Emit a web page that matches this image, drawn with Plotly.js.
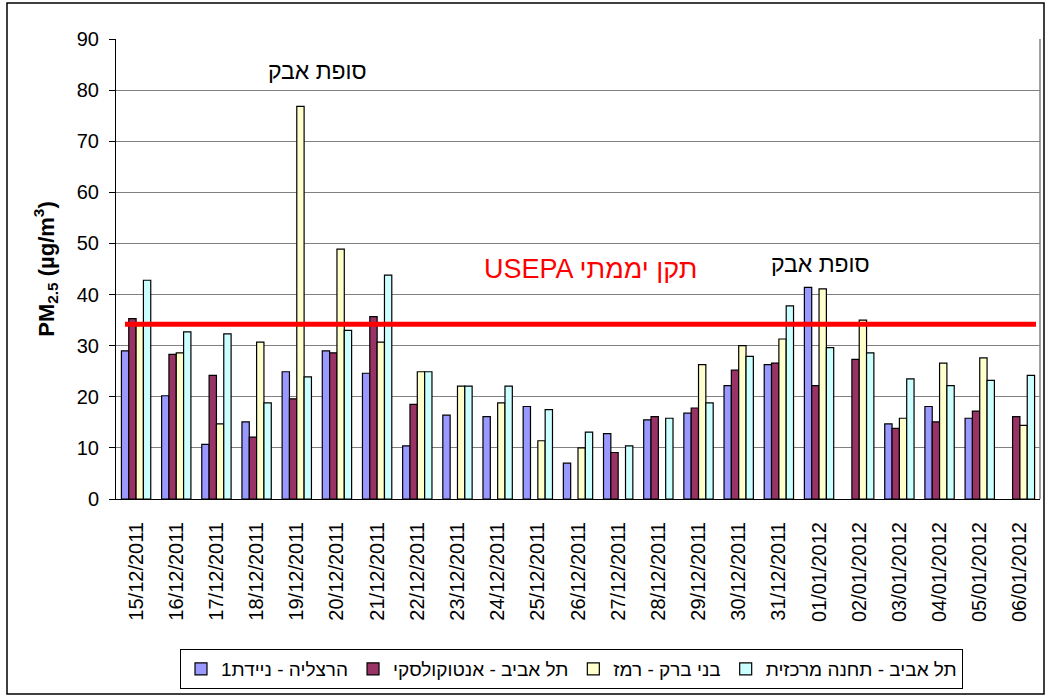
<!DOCTYPE html>
<html>
<head>
<meta charset="utf-8">
<script src="https://cdn.plot.ly/plotly-3.0.1.min.js"></script>
<style>
html,body{margin:0;padding:0;background:#fff;}
#chart{width:1045px;height:696px;}
</style>
</head>
<body>
<div id="chart"></div>
<script>
const dates = ['15/12/2011','16/12/2011','17/12/2011','18/12/2011','19/12/2011','20/12/2011','21/12/2011','22/12/2011','23/12/2011','24/12/2011','25/12/2011','26/12/2011','27/12/2011','28/12/2011','29/12/2011','30/12/2011','31/12/2011','01/01/2012','02/01/2012','03/01/2012','04/01/2012','05/01/2012','06/01/2012'];

const seriesNames = ['הרצליה - ניידת1','תל אביב - אנטוקולסקי','בני ברק - רמז','תל אביב - תחנה מרכזית'];

const herzliya = [29.0, 20.2, 10.7, 15.1, 24.9, 29.0, 24.6, 10.4, 16.4, 16.1, 18.1, 7.0, 12.8, 15.5, 16.8, 22.2, 26.3, 41.4, null, 14.7, 18.1, 15.8, null];
const antokolsky = [35.3, 28.3, 24.2, 12.1, 19.6, 28.6, 35.7, 18.5, null, null, null, null, 9.1, 16.1, 17.8, 25.2, 26.6, 22.2, 27.3, 13.8, 15.1, 17.2, 16.1];
const bneiBrak = [34.3, 28.6, 14.7, 30.7, 76.8, 48.9, 30.7, 24.9, 22.1, 18.8, 11.4, 10.0, null, null, 26.3, 30.0, 31.3, 41.1, 35.0, 15.8, 26.6, 27.6, 14.4];
const centralStation = [42.8, 32.7, 32.3, 18.8, 23.9, 33.0, 43.8, 24.9, 22.1, 22.1, 17.5, 13.1, 10.4, 15.8, 18.8, 27.9, 37.8, 29.6, 28.6, 23.5, 22.2, 23.2, 24.2];

const usepaStandard = 34.2;
const yTicks = [0,10,20,30,40,50,60,70,80,90];

const colors = ['#9999FF','#993366','#FFFFCC','#CCFFFF'];
const allSeries = [herzliya, antokolsky, bneiBrak, centralStation];

const FONT = 'Liberation Sans, Arial, sans-serif';

const traces = allSeries.map((vals, i) => ({
  type: 'bar',
  name: seriesNames[i],
  x: dates,
  y: vals,
  marker: {color: colors[i], line: {color: '#000000', width: 1.2}},
  hoverinfo: 'x+y+name'
}));

// plot area pixel geometry
const L = 116, R = 5, T = 39, B = 197;
const W = 1045 - L - R, H = 696 - T - B;
const px = x => (x - L) / W;
const py = y => (696 - B - y) / H;

const layout = {
  width: 1045, height: 696,
  margin: {l: L, r: R, t: T, b: B},
  paper_bgcolor: '#ffffff',
  plot_bgcolor: '#ffffff',
  font: {family: FONT, color: '#000000', size: 20},
  barmode: 'group',
  bargap: 0.27,
  bargroupgap: 0,
  showlegend: true,
  legend: {
    orientation: 'h',
    x: px(180), y: py(649),
    xanchor: 'left', yanchor: 'top',
    bordercolor: '#000000', borderwidth: 1,
    font: {family: FONT, size: 19, color: '#000000'},
    itemwidth: 30,
    tracegroupgap: 0,
    traceorder: 'normal'
  },
  xaxis: {
    type: 'category',
    tickangle: -90,
    ticks: '',
    showline: true, linecolor: '#000000', linewidth: 1,
    showgrid: false,
    tickfont: {family: FONT, size: 20, color: '#000000'},
    ticklabelstandoff: 14,
    automargin: false,
    fixedrange: true
  },
  xaxis2: {
    overlaying: 'x', anchor: 'y',
    range: [-0.5, dates.length - 0.5],
    tick0: -0.5, dtick: 2,
    ticks: 'outside', ticklen: 6, tickcolor: '#000000', tickwidth: 1,
    showticklabels: false, showgrid: false, showline: false, zeroline: false,
    automargin: false,
    fixedrange: true
  },
  yaxis: {
    range: [0, 90],
    tickvals: yTicks,
    ticks: 'outside', ticklen: 6, tickcolor: '#000000',
    showline: true, linecolor: '#000000', linewidth: 1,
    showgrid: true, gridcolor: '#808080', gridwidth: 1,
    zeroline: false,
    tickfont: {family: FONT, size: 20, color: '#000000'},
    ticklabelstandoff: 6,
    title: {text: '<b>PM<sub>2.5</sub> (µg/m<sup>3</sup>)</b>', font: {family: FONT, size: 22, color: '#000000'}, standoff: 16},
    automargin: false,
    fixedrange: true
  },
  shapes: [
    // outer chart border
    {type: 'rect', xref: 'paper', yref: 'paper', x0: px(7), x1: px(1044), y0: py(694), y1: py(3), line: {color: '#000000', width: 1.5}, fillcolor: 'rgba(0,0,0,0)', layer: 'below'},
    // plot area right border
    {type: 'line', xref: 'paper', yref: 'paper', x0: 1, x1: 1, y0: 0, y1: 1, line: {color: '#808080', width: 1.5}},
    // USEPA daily standard line
    {type: 'line', xref: 'paper', yref: 'y', x0: px(125), x1: px(1036), y0: usepaStandard, y1: usepaStandard, line: {color: '#FF0000', width: 5}}
  ],
  annotations: [
    {xref: 'paper', yref: 'paper', x: px(317), y: py(71), xanchor: 'center', yanchor: 'middle', text: 'סופת אבק', showarrow: false, font: {family: FONT, size: 23, color: '#000000'}},
    {xref: 'paper', yref: 'paper', x: px(820), y: py(264), xanchor: 'center', yanchor: 'middle', text: 'סופת אבק', showarrow: false, font: {family: FONT, size: 23, color: '#000000'}},
    {xref: 'paper', yref: 'paper', x: px(590), y: py(269), xanchor: 'center', yanchor: 'middle', text: 'USEPA תקן יממתי', showarrow: false, font: {family: FONT, size: 27, color: '#FF0000'}}
  ]
};

Plotly.newPlot('chart', traces, layout, {displayModeBar: false, staticPlot: true});
</script>
</body>
</html>
